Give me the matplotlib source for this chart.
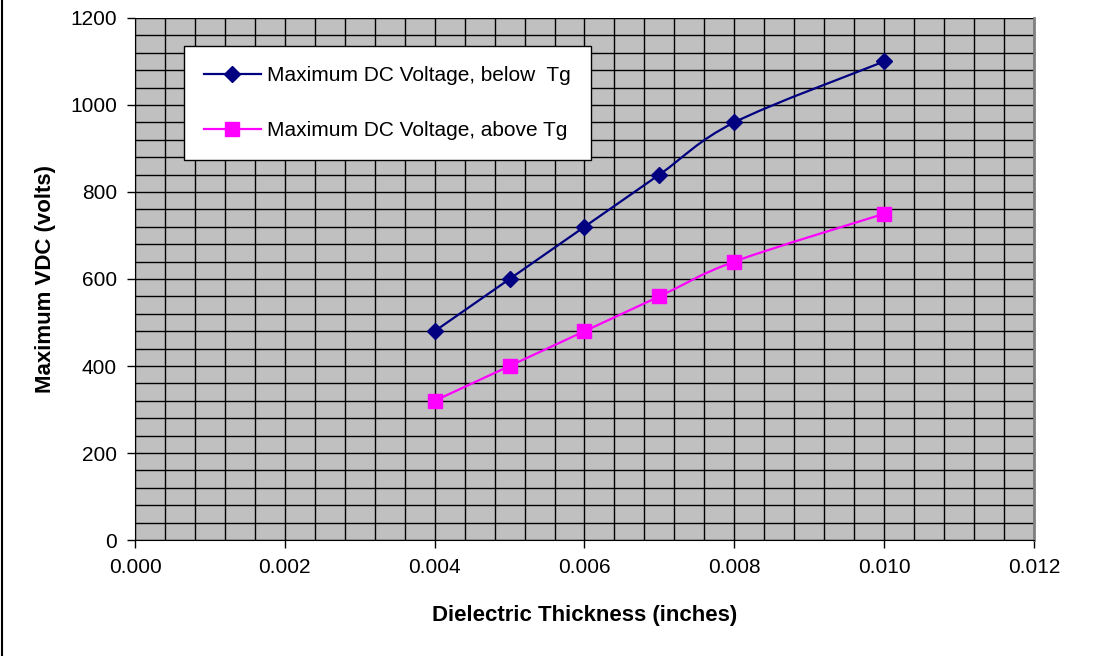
import matplotlib
matplotlib.use("Agg")
import matplotlib.pyplot as plt
import numpy as np
from matplotlib.path import Path
from matplotlib.patches import PathPatch
from matplotlib.lines import Line2D
from matplotlib.ticker import MultipleLocator, FormatStrFormatter

plt.rcParams['font.family'] = ['Liberation Sans', 'DejaVu Sans']

# data
thickness = [0.004, 0.005, 0.006, 0.007, 0.008, 0.010]
below_tg = [480, 600, 720, 840, 960, 1100]
above_tg = [320, 400, 480, 560, 640, 750]
label_below = 'Maximum DC Voltage, below  Tg'
label_above = 'Maximum DC Voltage, above Tg'


def smooth_path(x, y, t=1 / 6):
    # Excel-like smoothed line: cubic bezier through the points
    x = np.asarray(x, float)
    y = np.asarray(y, float)
    verts = [(x[0], y[0])]
    codes = [Path.MOVETO]
    n = len(x)
    for i in range(n - 1):
        i0 = max(i - 1, 0)
        i3 = min(i + 2, n - 1)
        c1 = (x[i] + (x[i + 1] - x[i0]) * t, y[i] + (y[i + 1] - y[i0]) * t)
        c2 = (x[i + 1] - (x[i3] - x[i]) * t, y[i + 1] - (y[i3] - y[i]) * t)
        verts += [c1, c2, (x[i + 1], y[i + 1])]
        codes += [Path.CURVE4] * 3
    return Path(verts, codes)


fig = plt.figure(figsize=(11.13, 6.56), dpi=100)
ax = fig.add_axes([0.1213, 0.1768, 0.8077, 0.7958])
ax.set_facecolor('#c0c0c0')

ax.set_xlim(0, 0.012)
ax.set_ylim(0, 1200)
ax.xaxis.set_major_locator(MultipleLocator(0.002))
ax.xaxis.set_minor_locator(MultipleLocator(0.0004))
ax.yaxis.set_major_locator(MultipleLocator(200))
ax.yaxis.set_minor_locator(MultipleLocator(40))
ax.xaxis.set_major_formatter(FormatStrFormatter('%.3f'))
ax.grid(True, which='both', color='black', linewidth=1.0)
ax.set_axisbelow(True)
ax.tick_params(which='minor', length=0)
ax.tick_params(which='major', length=6, width=1, labelsize=15, pad=7)

ax.spines['top'].set_visible(False)
ax.spines['right'].set_color('#808080')
ax.spines['right'].set_linewidth(2)
ax.spines['left'].set_color('black')
ax.spines['bottom'].set_color('black')

# smoothed lines
for yv, col in [(below_tg, '#000080'), (above_tg, '#ff00ff')]:
    ax.add_patch(PathPatch(smooth_path(thickness, yv), facecolor='none',
                           edgecolor=col, linewidth=1.6, zorder=3))

ax.plot(thickness, below_tg, linestyle='none', marker='D', markersize=8,
        color='#000080', zorder=4)
ax.plot(thickness, above_tg, linestyle='none', marker='s', markersize=10,
        color='#ff00ff', zorder=4)

handles = [
    Line2D([], [], color='#000080', linewidth=1.6, marker='D', markersize=8),
    Line2D([], [], color='#ff00ff', linewidth=1.6, marker='s', markersize=10),
]
leg = ax.legend(handles, [label_below, label_above], loc='upper left',
                bbox_to_anchor=(0.0545, 0.946), fontsize=15, frameon=True,
                fancybox=False, edgecolor='black', framealpha=1,
                labelspacing=1.75, handlelength=2.75, handletextpad=0.3,
                borderpad=0.95, borderaxespad=0)
leg.get_frame().set_linewidth(1)

ax.set_xlabel('Dielectric Thickness (inches)', fontsize=16, fontweight='bold',
              labelpad=20)
ax.set_ylabel('Maximum VDC (volts)', fontsize=16, fontweight='bold',
              labelpad=10)

# chart area left border
fig.add_artist(Line2D([0.002, 0.002], [0, 1], color='black', linewidth=1.5,
                      transform=fig.transFigure))

fig.savefig('out.png', dpi=100)
